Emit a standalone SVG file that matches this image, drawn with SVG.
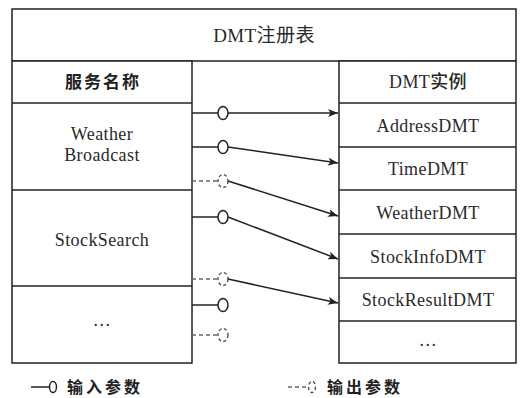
<svg xmlns="http://www.w3.org/2000/svg" width="529" height="398" viewBox="0 0 529 398">
<style>
.box{fill:#fff;stroke:#222;stroke-width:1.5}
.ln{stroke:#222;stroke-width:1.5;fill:none}
.dl{stroke:#666;stroke-width:1.5;fill:none;stroke-dasharray:4 3}
.el{fill:#fff;stroke:#222;stroke-width:1.5}
.de{fill:#fff;stroke:#444;stroke-width:1.3;stroke-dasharray:3 2.5}
.ser{font-family:"Liberation Serif",serif;font-size:18px;fill:#2a2a2a;text-anchor:middle;letter-spacing:0.4px}
.hd{font-family:"Noto Sans CJK SC",sans-serif;font-size:17px;font-weight:bold;fill:#222;text-anchor:middle;letter-spacing:2px}
.cjk{font-family:"Noto Sans CJK SC",sans-serif}
.lg{font-family:"Noto Sans CJK SC",sans-serif;font-size:16px;font-weight:bold;fill:#222;letter-spacing:3px}
</style>
<defs>
<marker id="arr" viewBox="0 0 10 8" refX="10" refY="4" markerWidth="10" markerHeight="8" markerUnits="userSpaceOnUse" orient="auto">
<path d="M0,0 L10,4 L0,8 L2.5,4 Z" fill="#222"/>
</marker>
</defs>
<rect width="529" height="398" fill="#fff"/>
<g id="title">
<rect class="box" x="12" y="9" width="504" height="52"/>
<text class="ser" x="264" y="42" style="font-size:19px">DMT<tspan class="cjk">注册表</tspan></text>
</g>
<g id="service-table">
<rect class="box" x="12" y="61" width="180" height="302"/>
<line class="ln" x1="12" y1="103" x2="192" y2="103"/>
<line class="ln" x1="12" y1="190" x2="192" y2="190"/>
<line class="ln" x1="12" y1="286" x2="192" y2="286"/>
<text class="hd" x="103" y="88">服务名称</text>
</g>
<g id="svc-weather"><text class="ser" x="102" y="140">Weather</text><text class="ser" x="102" y="161">Broadcast</text></g>
<g id="svc-stock"><text class="ser" x="102" y="246">StockSearch</text></g>
<g id="svc-more"><text class="ser" x="102" y="326">…</text></g>
<g id="dmt-table">
<rect class="box" x="339" y="61" width="177" height="302"/>
<line class="ln" x1="339" y1="103" x2="516" y2="103"/>
<line class="ln" x1="339" y1="147" x2="516" y2="147"/>
<line class="ln" x1="339" y1="190" x2="516" y2="190"/>
<line class="ln" x1="339" y1="234" x2="516" y2="234"/>
<line class="ln" x1="339" y1="278" x2="516" y2="278"/>
<line class="ln" x1="339" y1="321" x2="516" y2="321"/>
<text class="ser" x="428" y="88">DMT<tspan class="cjk" style="font-weight:500">实例</tspan></text>
</g>
<g id="dmt-address"><text class="ser" x="428" y="132">AddressDMT</text></g>
<g id="dmt-time"><text class="ser" x="428" y="175">TimeDMT</text></g>
<g id="dmt-weather"><text class="ser" x="428" y="219">WeatherDMT</text></g>
<g id="dmt-stockinfo"><text class="ser" x="428" y="263">StockInfoDMT</text></g>
<g id="dmt-stockresult"><text class="ser" x="428" y="306">StockResultDMT</text></g>
<g id="dmt-more"><text class="ser" x="428" y="346">…</text></g>
<g id="connectors">
<line class="ln" x1="192" y1="113" x2="218" y2="113"/>
<ellipse class="el" cx="223" cy="113" rx="5" ry="6.5"/>
<line class="ln" x1="228" y1="113" x2="338" y2="113" marker-end="url(#arr)"/>
<line class="ln" x1="192" y1="147" x2="218" y2="147"/>
<ellipse class="el" cx="223" cy="147" rx="5" ry="6.5"/>
<line class="ln" x1="228" y1="147" x2="338" y2="163" marker-end="url(#arr)"/>
<line class="dl" x1="192" y1="181" x2="218" y2="181"/>
<ellipse class="de" cx="223" cy="181" rx="5" ry="6.5"/>
<line class="ln" x1="228" y1="181" x2="338" y2="216" marker-end="url(#arr)"/>
<line class="ln" x1="192" y1="217" x2="218" y2="217"/>
<ellipse class="el" cx="223" cy="217" rx="5" ry="6.5"/>
<line class="ln" x1="228" y1="217" x2="338" y2="259" marker-end="url(#arr)"/>
<line class="dl" x1="192" y1="279" x2="218" y2="279"/>
<ellipse class="de" cx="223" cy="279" rx="5" ry="6.5"/>
<line class="ln" x1="228" y1="279" x2="338" y2="303" marker-end="url(#arr)"/>
<line class="ln" x1="192" y1="305" x2="218" y2="305"/>
<ellipse class="el" cx="223" cy="305" rx="5" ry="6.5"/>
<line class="dl" x1="192" y1="335" x2="218" y2="335"/>
<ellipse class="de" cx="223" cy="335" rx="5" ry="6.5"/>
</g>
<g id="legend-input">
<line class="ln" x1="31" y1="387" x2="49" y2="387"/>
<ellipse class="el" cx="53" cy="387" rx="3.5" ry="5.5"/>
<text class="lg" x="67" y="393">输入参数</text>
</g>
<g id="legend-output">
<line class="dl" x1="288" y1="387" x2="307" y2="387"/>
<ellipse class="de" cx="312" cy="387" rx="3.5" ry="5.5"/>
<text class="lg" x="327" y="393">输出参数</text>
</g>
</svg>
